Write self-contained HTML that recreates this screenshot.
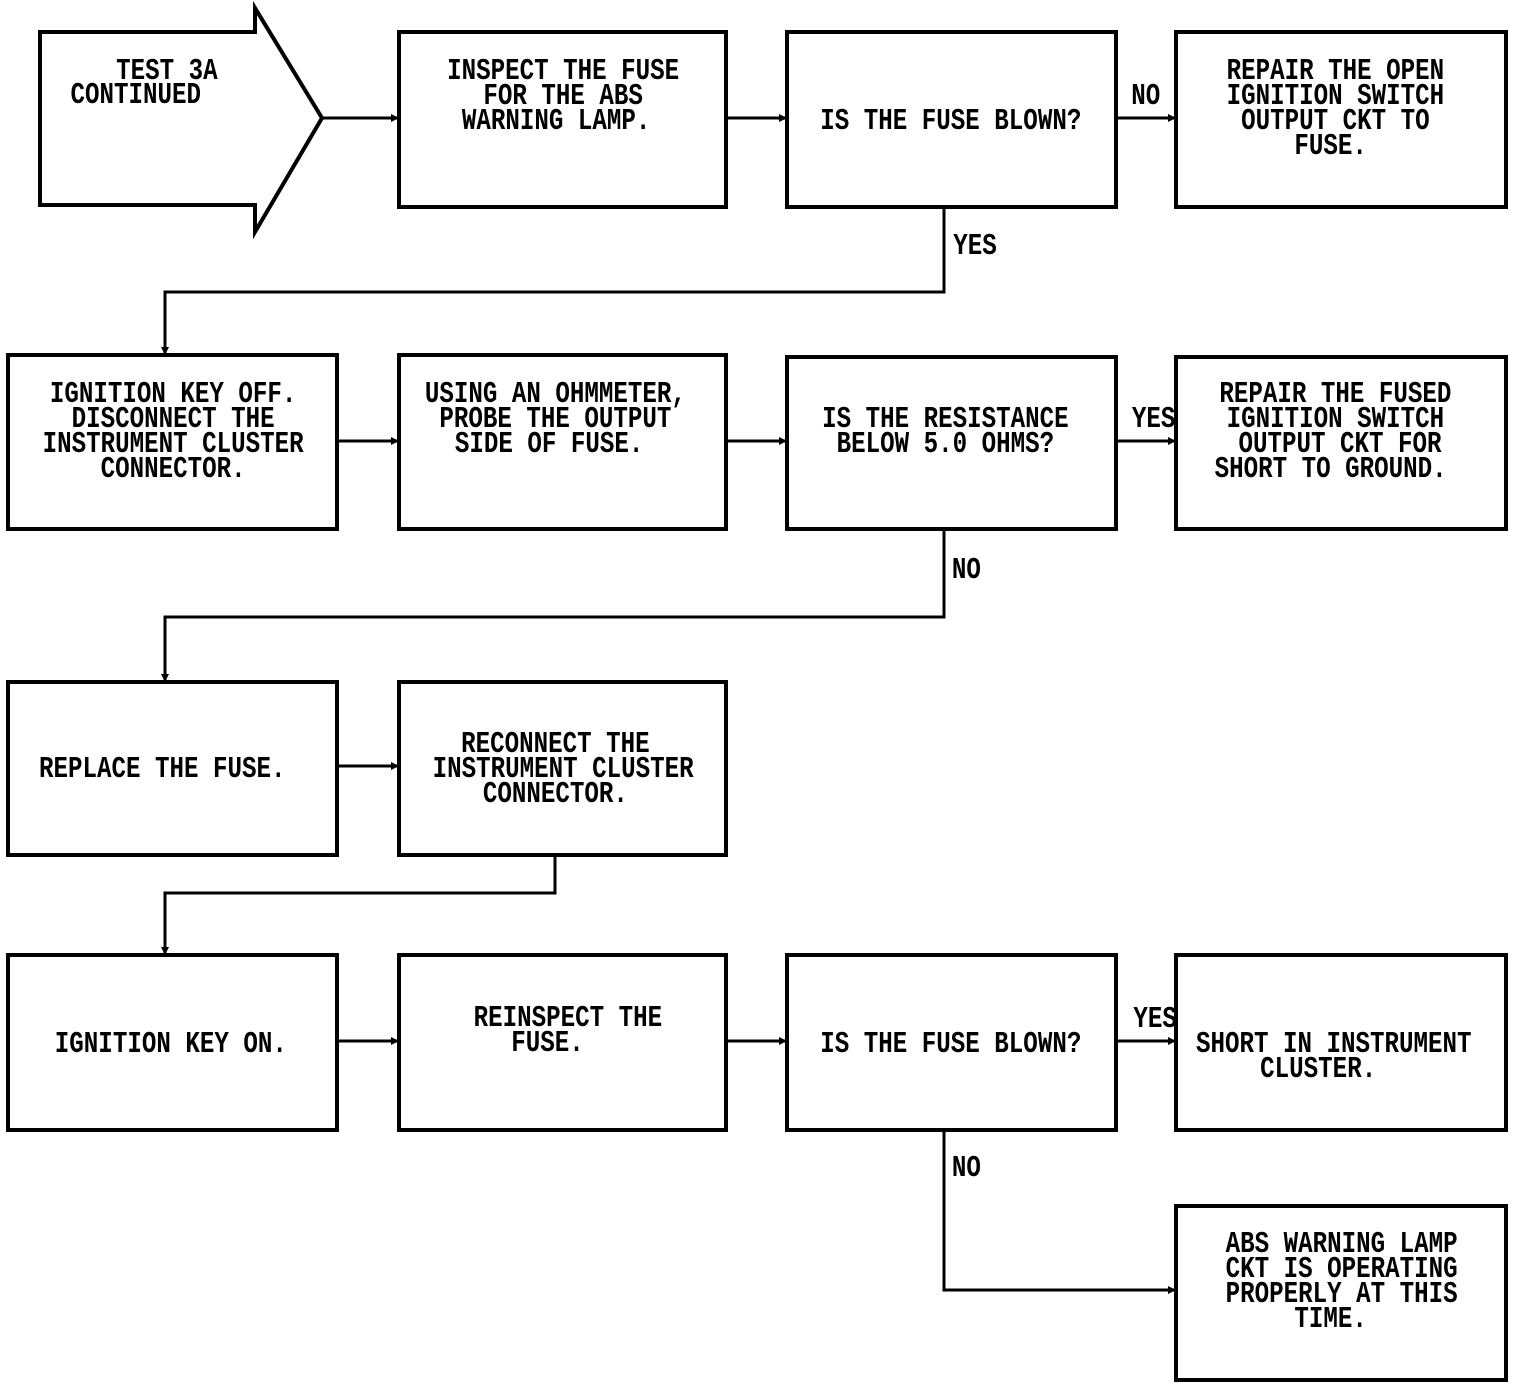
<!DOCTYPE html>
<html><head><meta charset="utf-8"><style>
html,body{margin:0;padding:0;background:#fff;}
svg{display:block;}
text{font-family:"Liberation Mono",monospace;font-weight:bold;font-size:31px;fill:#000;}
</style></head><body>
<svg width="1520" height="1388" viewBox="0 0 1520 1388" xmlns="http://www.w3.org/2000/svg">
<g fill="none" stroke="#000" stroke-width="4">
<polygon points="40,32 255,32 255,8 322,118 255,232 255,205 40,205"/>
<rect x="399" y="32" width="327" height="175"/>
<rect x="787" y="32" width="329" height="175"/>
<rect x="1176" y="32" width="330" height="175"/>
<rect x="8" y="355" width="329" height="174"/>
<rect x="399" y="355" width="327" height="174"/>
<rect x="787" y="357" width="329" height="172"/>
<rect x="1176" y="357" width="330" height="172"/>
<rect x="8" y="682" width="329" height="173"/>
<rect x="399" y="682" width="327" height="173"/>
<rect x="8" y="955" width="329" height="175"/>
<rect x="399" y="955" width="327" height="175"/>
<rect x="787" y="955" width="329" height="175"/>
<rect x="1176" y="955" width="330" height="175"/>
<rect x="1176" y="1206" width="330" height="174"/>
</g>
<g fill="none" stroke="#000" stroke-width="3">
<line x1="322" y1="118" x2="397" y2="118"/>
<line x1="726" y1="118" x2="785" y2="118"/>
<line x1="1116" y1="118" x2="1174" y2="118"/>
<polyline points="944,207 944,292 165,292 165,353"/>
<line x1="337" y1="441" x2="397" y2="441"/>
<line x1="726" y1="441" x2="785" y2="441"/>
<line x1="1116" y1="441" x2="1174" y2="441"/>
<polyline points="944,529 944,617 165,617 165,680"/>
<line x1="337" y1="766" x2="397" y2="766"/>
<polyline points="555,855 555,893 165,893 165,953"/>
<line x1="337" y1="1041" x2="397" y2="1041"/>
<line x1="726" y1="1041" x2="785" y2="1041"/>
<line x1="1116" y1="1041" x2="1174" y2="1041"/>
<polyline points="944,1130 944,1290 1174,1290"/>
</g>
<g fill="#000">
<polygon points="399,118 391,114 391,122"/>
<polygon points="787,118 779,114 779,122"/>
<polygon points="1176,118 1168,114 1168,122"/>
<polygon points="165,355 161,347 169,347"/>
<polygon points="399,441 391,437 391,445"/>
<polygon points="787,441 779,437 779,445"/>
<polygon points="1176,441 1168,437 1168,445"/>
<polygon points="165,682 161,674 169,674"/>
<polygon points="399,766 391,762 391,770"/>
<polygon points="165,955 161,947 169,947"/>
<polygon points="399,1041 391,1037 391,1045"/>
<polygon points="787,1041 779,1037 779,1045"/>
<polygon points="1176,1041 1168,1037 1168,1045"/>
<polygon points="1176,1290 1168,1286 1168,1294"/>
</g>
<g transform="scale(0.78,1)" text-anchor="middle">
<text x="214" y="79">TEST 3A</text>
<text x="174" y="103">CONTINUED</text>
<text x="722" y="79">INSPECT THE FUSE</text>
<text x="722" y="104">FOR THE ABS</text>
<text x="713" y="129">WARNING LAMP.</text>
<text x="1219" y="129">IS THE FUSE BLOWN?</text>
<text x="1712" y="79">REPAIR THE OPEN</text>
<text x="1712" y="104">IGNITION SWITCH</text>
<text x="1712" y="129">OUTPUT CKT TO</text>
<text x="1706" y="154">FUSE.</text>
<text x="1469" y="104">NO</text>
<text x="1250" y="254">YES</text>
<text x="222" y="402">IGNITION KEY OFF.</text>
<text x="222" y="427">DISCONNECT THE</text>
<text x="222" y="452">INSTRUMENT CLUSTER</text>
<text x="222" y="477">CONNECTOR.</text>
<text x="712" y="402">USING AN OHMMETER,</text>
<text x="712" y="427">PROBE THE OUTPUT</text>
<text x="704" y="452">SIDE OF FUSE.</text>
<text x="1212" y="427">IS THE RESISTANCE</text>
<text x="1212" y="452">BELOW 5.0 OHMS?</text>
<text x="1712" y="402">REPAIR THE FUSED</text>
<text x="1712" y="427">IGNITION SWITCH</text>
<text x="1718" y="452">OUTPUT CKT FOR</text>
<text x="1706" y="477">SHORT TO GROUND.</text>
<text x="1479" y="427">YES</text>
<text x="1239" y="578">NO</text>
<text x="208" y="777">REPLACE THE FUSE.</text>
<text x="712" y="752">RECONNECT THE</text>
<text x="722" y="777">INSTRUMENT CLUSTER</text>
<text x="712" y="802">CONNECTOR.</text>
<text x="219" y="1052">IGNITION KEY ON.</text>
<text x="728" y="1026">REINSPECT THE</text>
<text x="702" y="1051">FUSE.</text>
<text x="1219" y="1052">IS THE FUSE BLOWN?</text>
<text x="1481" y="1027">YES</text>
<text x="1710" y="1052">SHORT IN INSTRUMENT</text>
<text x="1690" y="1077">CLUSTER.</text>
<text x="1239" y="1176">NO</text>
<text x="1720" y="1252">ABS WARNING LAMP</text>
<text x="1720" y="1277">CKT IS OPERATING</text>
<text x="1720" y="1302">PROPERLY AT THIS</text>
<text x="1706" y="1327">TIME.</text>
</g>
</svg>
</body></html>
